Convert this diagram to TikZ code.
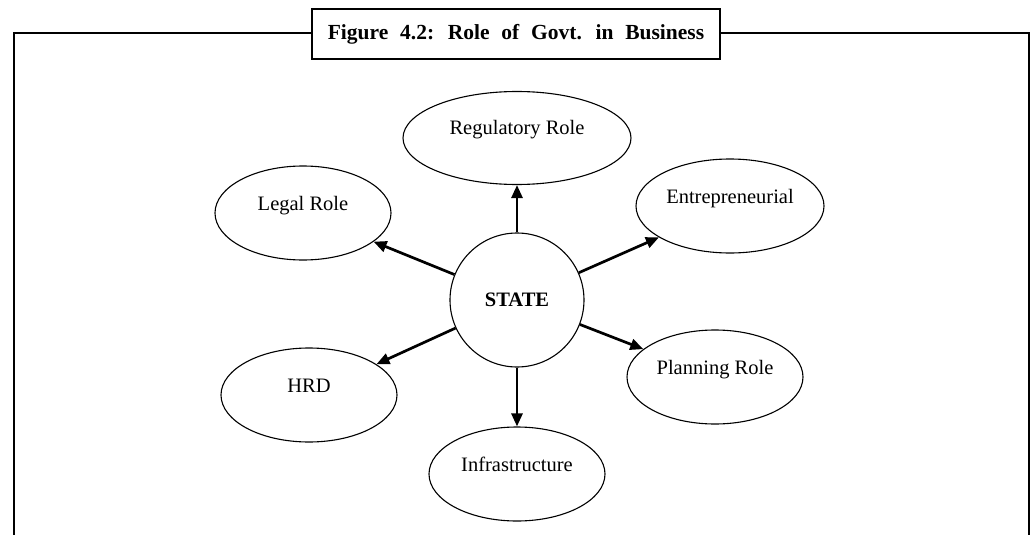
\documentclass[tikz,border=0pt]{standalone}
\usepackage{fontspec}
\setmainfont{Liberation Serif}
\usepackage{tikz}
\usetikzlibrary{shapes.geometric,arrows.meta}
\newcommand{\widewords}{\spaceskip 0.55em\relax}
\tikzset{
    role-ellipse/.style = {draw, ellipse, line width=1.1pt, inner sep=0pt, minimum width=176pt, minimum height=94pt, text height=14pt, text depth=20pt, font=\fontsize{20.5}{24}\selectfont},
    state-circle/.style = {draw, circle, line width=1.1pt, minimum size=134pt, inner sep=0pt, font=\fontsize{20.5}{24}\selectfont\bfseries},
    role-arrow/.style = {line width=2.7pt, -{Triangle[length=13pt,width=11pt]}},
    title-box/.style = {draw, fill=white, line width=2pt, minimum width=408pt, minimum height=50pt, inner sep=0pt, font=\fontsize{21.5}{25}\selectfont\bfseries},
}

\begin{document}
\begin{tikzpicture}[x=1pt,y=-1pt]
\useasboundingbox (0,0) rectangle (1034,535);
% outer frame, open at the bottom
\draw[line width=2.8pt] (14,535) -- (14,33) -- (1029,33) -- (1029,535);
\node[title-box] (title) at (516,34) {\widewords Figure 4.2: Role of Govt. in Business};

\node[state-circle] (state) at (517,300) {STATE};
\node[role-ellipse, minimum width=228pt, minimum height=93pt] (regulatory) at (517,138) {Regulatory Role};
\node[role-ellipse] (legal) at (303,213) {Legal Role};
\node[role-ellipse, minimum width=188pt] (entrepreneurial) at (730,206) {Entrepreneurial};
\node[role-ellipse] (hrd) at (309,395) {HRD};
\node[role-ellipse] (planning) at (715,377) {Planning Role};
\node[role-ellipse] (infra) at (517,474) {Infrastructure};

\draw[role-arrow] (state) -- (regulatory);
\draw[role-arrow] (state) -- (legal);
\draw[role-arrow] (state) -- (entrepreneurial);
\draw[role-arrow] (state) -- (hrd);
\draw[role-arrow] (state) -- (planning);
\draw[role-arrow] (state) -- (infra);
\end{tikzpicture}
\end{document}
